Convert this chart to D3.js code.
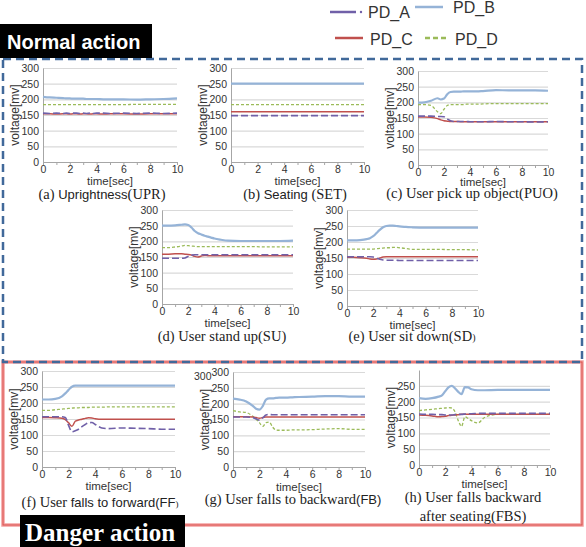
<!DOCTYPE html>
<html>
<head>
<meta charset="utf-8">
<script src="https://cdn.jsdelivr.net/npm/d3@7"></script>
<style>
  body { margin: 0; background: #fff; }
  svg { display: block; }
</style>
</head>
<body>
<div id="chart"></div>
<script>
// sample times [sec], shared by every panel
const times = [0, 0.5, 1, 1.5, 1.75, 2, 2.25, 2.5, 2.75, 3, 3.25, 3.5, 3.75, 4, 4.5, 5, 6, 7, 8, 9, 10];
const seriesNames = ["PD_A", "PD_B", "PD_C", "PD_D"];
const yTicks = [0, 50, 100, 150, 200, 250, 300];
const xTicks = [0, 1, 2, 3, 4, 5, 6, 7, 8, 9, 10];

// (a) Uprightness
const uprA = [156, 155, 156, 155, 156, 155, 156, 156, 155, 156, 155, 156, 155, 156, 156, 155, 156, 155, 156, 155, 156];
const uprB = [208, 206, 205, 204, 203, 203, 202, 202, 202, 202, 201, 201, 201, 201, 200, 200, 200, 199, 200, 201, 203];
const uprC = [154, 154, 153, 154, 154, 153, 154, 154, 153, 154, 154, 153, 154, 154, 153, 154, 154, 153, 154, 154, 154];
const uprD = [183, 183, 183, 183, 183, 183, 183, 183, 183, 183, 183, 183, 183, 183, 183, 183, 183, 184, 184, 184, 184];
// (b) Seating
const setA = [148, 148, 148, 148, 148, 148, 148, 148, 148, 148, 148, 148, 148, 148, 148, 148, 148, 148, 148, 148, 148];
const setB = [250, 250, 250, 250, 250, 250, 250, 250, 250, 250, 250, 250, 250, 250, 250, 250, 250, 250, 250, 250, 250];
const setC = [160, 160, 160, 160, 160, 160, 160, 160, 160, 160, 160, 160, 160, 160, 160, 160, 160, 160, 160, 160, 160];
const setD = [183, 183, 183, 183, 183, 183, 183, 183, 183, 183, 183, 183, 183, 183, 183, 183, 183, 183, 183, 183, 183];
// (c) User pick up object
const puoA = [156, 156, 156, 155, 155, 154, 147, 141, 139, 139, 139, 139, 139, 138, 138, 138, 139, 138, 138, 137, 138];
const puoB = [199, 200, 205, 213, 209, 212, 226, 233, 234, 234, 234, 235, 235, 235, 235, 236, 239, 238, 238, 238, 237];
const puoC = [153, 153, 152, 148, 144, 141, 140, 139, 139, 139, 138, 138, 138, 138, 138, 138, 138, 138, 138, 138, 138];
const puoD = [193, 193, 190, 170, 164, 178, 190, 193, 193, 193, 193, 193, 194, 194, 194, 195, 196, 196, 196, 196, 196];
// (d) User stand up
const suA = [146, 146, 146, 146, 147, 152, 156, 157, 157, 157, 157, 157, 157, 157, 157, 157, 157, 157, 157, 157, 157];
const suB = [250, 250, 251, 253, 254, 252, 244, 233, 226, 222, 218, 215, 212, 209, 205, 202, 201, 201, 201, 201, 202];
const suC = [159, 159, 160, 160, 159, 158, 156, 152, 150, 153, 155, 154, 154, 154, 154, 154, 154, 154, 154, 154, 154];
const suD = [180, 180, 182, 185, 187, 186, 185, 184, 183, 183, 183, 183, 183, 183, 183, 183, 183, 183, 182, 182, 182];
// (e) User sit down
const sdA = [154, 154, 154, 154, 154, 153, 150, 146, 144, 143, 143, 143, 143, 142, 142, 142, 142, 142, 142, 142, 142];
const sdB = [205, 205, 206, 209, 212, 218, 228, 238, 246, 250, 251, 251, 250, 249, 247, 246, 245, 245, 245, 245, 245];
const sdC = [152, 152, 151, 149, 147, 146, 147, 150, 153, 154, 154, 154, 154, 154, 154, 154, 154, 154, 154, 154, 154];
const sdD = [178, 178, 178, 178, 178, 178, 179, 180, 181, 182, 182, 183, 183, 182, 180, 177, 177, 177, 176, 176, 175];
// (f) User falls to forward
const ffA = [157, 157, 157, 157, 155, 130, 110, 113, 118, 126, 133, 138, 139, 133, 122, 120, 122, 121, 120, 118, 118];
const ffB = [211, 211, 213, 221, 230, 241, 251, 254, 254, 254, 254, 254, 254, 254, 254, 254, 254, 254, 254, 254, 254];
const ffC = [155, 155, 154, 152, 148, 138, 127, 143, 147, 149, 152, 154, 153, 151, 149, 149, 149, 149, 149, 149, 149];
const ffD = [177, 177, 179, 181, 182, 183, 184, 185, 185, 186, 186, 186, 187, 187, 187, 188, 188, 188, 188, 188, 188];
// (g) User falls to backward
const fbA = [158, 158, 158, 156, 152, 148, 155, 164, 166, 165, 165, 165, 165, 165, 165, 165, 165, 165, 165, 165, 165];
const fbB = [216, 213, 207, 193, 184, 181, 192, 213, 217, 217, 218, 219, 219, 219, 220, 221, 222, 224, 224, 222, 222];
const fbC = [159, 159, 159, 158, 156, 154, 156, 158, 158, 158, 158, 158, 158, 158, 158, 158, 158, 158, 158, 158, 158];
const fbD = [178, 174, 172, 160, 151, 140, 128, 140, 142, 126, 117, 116, 116, 116, 117, 117, 118, 120, 121, 119, 119];
// (h) User falls backward after seating
const fbsA = [161, 160, 160, 159, 159, 158, 158, 158, 159, 160, 160, 161, 162, 162, 163, 163, 163, 163, 163, 163, 163];
const fbsB = [211, 209, 211, 216, 220, 233, 245, 250, 242, 231, 224, 246, 245, 239, 236, 236, 237, 237, 237, 237, 237];
const fbsC = [158, 157, 155, 152, 153, 154, 156, 157, 158, 159, 160, 160, 160, 160, 160, 160, 160, 160, 160, 160, 160];
const fbsD = [172, 174, 176, 178, 179, 180, 181, 180, 168, 140, 122, 152, 147, 140, 133, 150, 160, 160, 160, 160, 160];

const W = 586, H = 547;
const colors = { PD_A: "#7060a8", PD_B: "#95b3d7", PD_C: "#c0504d", PD_D: "#9bbb59" };
const widths = { PD_A: 1.6, PD_B: 2.2, PD_C: 1.5, PD_D: 1.3 };
const dashes = { PD_A: "7,3", PD_B: null, PD_C: null, PD_D: "3,2" };
const serif = "'Liberation Serif', 'Times New Roman', serif";
const sans = "'Liberation Sans', Arial, sans-serif";

// panel boxes and caption pieces ([text, font, size])
const panels = [
  { l: 43, r: 177, t: 68, b: 162, cx: 102, cap: [37], data: [uprA, uprB, uprC, uprD],
    caption: [[["(a) ", serif, 14.5], ["Uprightness", sans, 13], ["(UPR)", serif, 14.5]]] },
  { l: 231, r: 364, t: 68, b: 162, cx: 295, cap: [37], data: [setA, setB, setC, setD],
    caption: [[["(b) ", serif, 14.5], ["Seating", sans, 13], [" (SET)", serif, 14.5]]] },
  { l: 418, r: 548, t: 71, b: 165, cx: 472, cap: [33], timeOff: 21, data: [puoA, puoB, puoC, puoD],
    caption: [[["(c) User pick up object(PUO)", serif, 14.5]]] },
  { l: 162, r: 293, t: 210, b: 304, cx: 222, cap: [37], data: [suA, suB, suC, suD],
    caption: [[["(d) User stand up(SU)", serif, 14.5]]] },
  { l: 347, r: 478, t: 210, b: 306, cx: 412, cap: [35], data: [sdA, sdB, sdC, sdD],
    caption: [[["(e) User sit down(SD", serif, 14.5], [")", serif, 10]]] },
  { l: 42, r: 175, t: 371, b: 467, cx: 100, cap: [40], data: [ffA, ffB, ffC, ffD],
    caption: [[["(f) User ", serif, 14.5], ["falls to forward(FF", sans, 13], [")", serif, 9]]] },
  { l: 233, r: 365, t: 372, b: 467, cx: 293, cap: [37], timeOff: 24, data: [fbA, fbB, fbC, fbD],
    caption: [[["(g) User falls to backward", serif, 14.5], ["(FB)", sans, 13]]] },
  { l: 419, r: 550, t: 370, b: 465, cx: 473, cap: [37, 56], noTop: true, data: [fbsA, fbsB, fbsC, fbsD],
    caption: [[["(h) User falls backward", serif, 14.5]], [["after seating(FBS)", serif, 14.5]]] }
];

const svg = d3.select("#chart").append("svg")
  .attr("width", W).attr("height", H)
  .style("background", "#fff");

// group frames
svg.append("rect")
  .attr("x", 3).attr("y", 362).attr("width", 579).attr("height", 163)
  .attr("fill", "none").attr("stroke", "#f4a0a0").attr("stroke-width", 3.5);
svg.append("rect")
  .attr("x", 3).attr("y", 362).attr("width", 579).attr("height", 163)
  .attr("fill", "none").attr("stroke", "#d9534f").attr("stroke-width", 1);
svg.append("rect")
  .attr("x", 3).attr("y", 59).attr("width", 579).attr("height", 303)
  .attr("fill", "none").attr("stroke", "#41699a").attr("stroke-width", 2.5)
  .attr("stroke-dasharray", "8,5");

panels.forEach((p, i) => {
  const x = d3.scaleLinear().domain([0, 10]).range([p.l, p.r]);
  const y = d3.scaleLinear().domain([0, 300]).range([p.b, p.t]);
  const g = svg.append("g");
  const yVals = p.noTop ? yTicks.filter(v => v < 300) : yTicks;

  // gridlines
  g.append("g")
    .attr("transform", `translate(${p.l},0)`)
    .call(d3.axisLeft(y).tickValues(yVals.filter(v => v > 0)).tickSize(-(p.r - p.l)).tickFormat(""))
    .call(a => a.select(".domain").remove())
    .selectAll("line").attr("stroke", "#d9d9d9").attr("stroke-width", 1.2);

  // y axis
  const ya = g.append("g")
    .attr("transform", `translate(${p.l},0)`)
    .call(d3.axisLeft(y).tickValues(yVals).tickSize(0).tickPadding(4));
  ya.select(".domain").attr("stroke", "#a6a6a6");
  ya.selectAll("text").attr("font-family", sans).attr("font-size", 10.5).attr("fill", "#333");

  // x axis
  const xa = g.append("g")
    .attr("transform", `translate(0,${p.b})`)
    .call(d3.axisBottom(x).tickValues(xTicks).tickSize(3).tickPadding(1)
      .tickFormat(d => d % 2 === 0 ? d : ""));
  xa.select(".domain").attr("stroke", "#a6a6a6");
  xa.selectAll("line").attr("stroke", "#a6a6a6");
  xa.selectAll("text").attr("font-family", sans).attr("font-size", 10.5).attr("fill", "#333");

  // lines
  const line = d3.line().x((d, j) => x(times[j])).y(d => y(d)).curve(d3.curveMonotoneX);
  const order = [1, 3, 2, 0];
  order.forEach(k => {
    const name = seriesNames[k];
    g.append("path")
      .datum(p.data[k])
      .attr("d", line)
      .attr("fill", "none")
      .attr("stroke", colors[name])
      .attr("stroke-width", widths[name])
      .attr("stroke-dasharray", dashes[name]);
  });

  // axis titles
  g.append("text")
    .attr("transform", `translate(${p.l - 24},${(p.t + p.b) / 2}) rotate(-90)`)
    .attr("text-anchor", "middle")
    .attr("font-family", sans).attr("font-size", 12).attr("fill", "#333")
    .text("voltage[mv]");
  g.append("text")
    .attr("x", (p.l + p.r) / 2).attr("y", p.b + (p.timeOff || 23))
    .attr("text-anchor", "middle")
    .attr("font-family", sans).attr("font-size", 11.5).attr("fill", "#333")
    .text("time[sec]");

  // caption
  p.caption.forEach((parts, li) => {
    const t = g.append("text")
      .attr("x", p.cx).attr("y", p.b + p.cap[li])
      .attr("text-anchor", "middle").attr("fill", "#222");
    parts.forEach(([s, f, fs]) => {
      t.append("tspan").attr("font-family", f).attr("font-size", fs).text(s);
    });
  });
});

// stray 300 label in panel (g)
svg.append("text")
  .attr("x", 194).attr("y", 380)
  .attr("font-family", sans).attr("font-size", 10.5).attr("fill", "#333")
  .text("300");

// legend
const legendPos = [
  { x1: 330, x2: 356, y: 12, tx: 368, ty: 18 },
  { x1: 415, x2: 443, y: 7, tx: 453, ty: 13 },
  { x1: 335, x2: 363, y: 38, tx: 370, ty: 45 },
  { x1: 425, x2: 446, y: 38, tx: 455, ty: 45 }
];
seriesNames.forEach((name, k) => {
  const lp = legendPos[k];
  svg.append("line")
    .attr("x1", lp.x1).attr("x2", lp.x2).attr("y1", lp.y).attr("y2", lp.y)
    .attr("stroke", colors[name]).attr("stroke-width", 2.5)
    .attr("stroke-dasharray", name === "PD_D" ? "5,3" : null);
  if (name === "PD_A") {
    svg.append("circle").attr("cx", lp.x2 + 5).attr("cy", lp.y).attr("r", 1.2).attr("fill", colors[name]);
  }
  svg.append("text")
    .attr("x", lp.tx).attr("y", lp.ty)
    .attr("font-family", sans).attr("font-size", 16).attr("fill", "#333")
    .text(name);
});

// group labels
svg.append("rect").attr("x", 0).attr("y", 24).attr("width", 152).attr("height", 34).attr("fill", "#000");
svg.append("text")
  .attr("x", 7).attr("y", 49)
  .attr("font-family", sans).attr("font-weight", "bold").attr("font-size", 20).attr("fill", "#fff")
  .text("Normal action");
svg.append("rect").attr("x", 20).attr("y", 515).attr("width", 165).attr("height", 32).attr("fill", "#000");
svg.append("text")
  .attr("x", 25).attr("y", 541)
  .attr("font-family", "'Liberation Serif', serif").attr("font-weight", "bold").attr("font-size", 25).attr("fill", "#fff")
  .text("Danger action");
</script>
</body>
</html>
